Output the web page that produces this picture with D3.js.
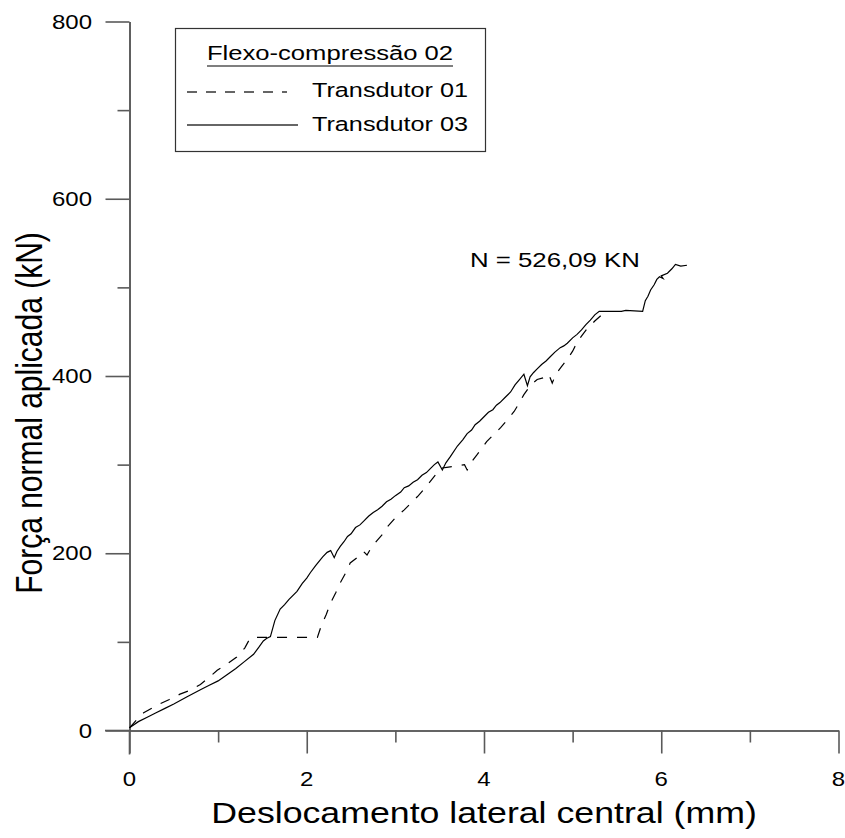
<!DOCTYPE html>
<html>
<head>
<meta charset="utf-8">
<script src="https://cdn.jsdelivr.net/npm/d3@7"></script>
<style>
	body { margin: 0; background: #fff; }
	svg text { font-family: "Liberation Sans", Arial, sans-serif; fill: #000; }
</style>
</head>
<body>
<svg id="chart" width="845" height="838"></svg>
<script>
// tick values
const xMajor = [0, 2, 4, 6, 8];
const xMinor = [1, 3, 5, 7];
const yMajor = [0, 200, 400, 600, 800];
const yMinor = [100, 300, 500, 700];

// Transdutor 01 (dashed): [deslocamento mm, forca kN]
const transdutor01 = [
	[0, 3], [0.08, 12], [0.16, 20], [0.3, 28], [0.45, 35], [0.57, 41], [0.7, 46], [0.8, 52],
	[0.9, 60], [0.99, 68], [1.1, 75], [1.21, 83], [1.3, 93], [1.36, 104], [1.40, 105],
	[1.6, 105], [1.9, 105], [2.12, 105], [2.16, 117], [2.22, 131], [2.27, 144], [2.33, 156],
	[2.38, 167], [2.44, 178], [2.49, 189], [2.58, 196], [2.64, 202], [2.68, 198], [2.72, 205],
	[2.79, 214], [2.86, 222], [2.91, 230], [3.0, 240], [3.1, 249], [3.18, 257], [3.25, 264],
	[3.33, 273], [3.41, 283], [3.51, 296], [3.58, 297], [3.66, 298], [3.78, 300], [3.81, 294],
	[3.85, 302], [3.92, 311], [4.03, 326], [4.1, 333], [4.19, 342], [4.26, 350], [4.34, 360],
	[4.4, 370], [4.45, 379], [4.53, 390], [4.6, 396], [4.67, 398], [4.73, 402], [4.77, 392],
	[4.81, 402], [4.87, 410], [4.94, 419], [5.0, 428], [5.05, 438], [5.1, 445], [5.16, 453],
	[5.25, 462], [5.35, 471]
];

// Transdutor 03 (solid)
const transdutor03 = [
	[0, 3], [0.1, 10], [0.2, 15], [0.3, 20], [0.4, 25], [0.5, 30], [0.65, 38], [0.8, 46],
	[0.9, 51], [1.0, 56], [1.1, 63], [1.2, 70], [1.3, 78], [1.4, 86], [1.46, 94], [1.51, 101],
	[1.55, 104], [1.59, 106], [1.64, 124], [1.70, 137], [1.75, 142], [1.8, 148], [1.89, 157],
	[1.95, 166], [2.0, 172], [2.04, 178], [2.1, 186], [2.18, 196], [2.23, 201], [2.27, 203],
	[2.31, 195], [2.34, 202], [2.38, 208], [2.42, 213], [2.46, 219], [2.5, 222], [2.55, 229],
	[2.6, 232], [2.64, 236], [2.7, 242], [2.75, 246], [2.8, 249], [2.85, 253], [2.9, 258],
	[2.95, 261], [3.0, 265], [3.06, 269], [3.1, 274], [3.15, 276], [3.2, 280], [3.25, 283],
	[3.3, 288], [3.35, 291], [3.4, 296], [3.44, 300], [3.48, 303], [3.53, 294], [3.57, 302],
	[3.62, 309], [3.7, 321], [3.76, 328], [3.81, 335], [3.86, 339], [3.9, 345], [3.95, 349],
	[4.0, 354], [4.05, 359], [4.1, 362], [4.14, 367], [4.18, 370], [4.24, 376], [4.3, 382],
	[4.35, 390], [4.4, 396], [4.45, 402], [4.49, 389], [4.52, 399], [4.56, 404], [4.6, 408],
	[4.65, 413], [4.7, 417], [4.75, 422], [4.8, 427], [4.86, 432], [4.9, 434], [4.94, 437],
	[5.0, 443], [5.05, 447], [5.1, 452], [5.15, 458], [5.2, 463], [5.25, 469], [5.30, 473],
	[5.55, 473], [5.6, 474], [5.79, 473], [5.82, 485], [5.85, 490], [5.88, 497], [5.92, 503],
	[5.95, 509], [5.98, 512], [6.02, 510], [6.0, 513], [6.07, 516], [6.12, 521], [6.16, 526],
	[6.22, 524], [6.29, 525]
];

const legendTitle = "Flexo-compressão 02";
const legendLabels = ["Transdutor 01", "Transdutor 03"];
const annotation = "N = 526,09 KN";
const xTitle = "Deslocamento lateral central (mm)";
const yTitle = "Força normal aplicada (kN)";

const svg = d3.select("#chart");
const axisColor = "#5a5a5a";
const stretch = 1.2; // the original text is wider than Arial

const x = d3.scaleLinear().domain([0, 8]).range([129.5, 838.5]);
const y = d3.scaleLinear().domain([0, 800]).range([730.5, 21.5]);

// text helper: horizontally stretched text
function label(parent, tx, ty, txt, size, anchor, sx) {
	return parent.append("text")
		.attr("transform", `translate(${tx},${ty}) scale(${sx || stretch},1)`)
		.attr("text-anchor", anchor)
		.style("font-size", size + "px")
		.text(txt);
}

// Axes
const xAxisG = svg.append("g").attr("transform", `translate(0,${y(0)})`);
xAxisG.call(d3.axisBottom(x).tickValues(xMinor).tickSize(12).tickSizeOuter(0).tickFormat(""));
xAxisG.append("g").call(d3.axisBottom(x).tickValues(xMajor).tickSize(23).tickSizeOuter(0).tickFormat(""));
xAxisG.append("line").attr("x1", 105).attr("x2", x(0)).attr("y1", 0).attr("y2", 0);

const yAxisG = svg.append("g").attr("transform", `translate(${x(0)},0)`);
yAxisG.call(d3.axisLeft(y).tickValues(yMinor).tickSize(12).tickSizeOuter(0).tickFormat(""));
yAxisG.append("g").call(d3.axisLeft(y).tickValues(yMajor).tickSize(24).tickSizeOuter(0).tickFormat(""));
yAxisG.append("line").attr("x1", 0).attr("x2", 0).attr("y1", y(0)).attr("y2", y(0) + 24);

svg.selectAll(".domain, .tick line, g > line")
	.attr("stroke", axisColor)
	.attr("stroke-width", 1.6);

// tick labels
xMajor.forEach(v => label(svg, x(v), 786, v, 20, "middle"));
yMajor.forEach(v => label(svg, 92, y(v) + 7, v, 20, "end"));

// axis titles
label(svg, 484, 823, xTitle, 30, "middle", 1.19);
svg.append("text")
	.attr("transform", `translate(42,413) scale(1.22,1) rotate(-90)`)
	.attr("text-anchor", "middle")
	.style("font-size", "30px")
	.text(yTitle);

// curves
const line = d3.line().x(d => x(d[0])).y(d => y(d[1]));

svg.append("path")
	.datum(transdutor01)
	.attr("fill", "none")
	.attr("stroke", "#000")
	.attr("stroke-width", 1.2)
	.attr("stroke-dasharray", "10,10")
	.attr("d", line);

svg.append("path")
	.datum(transdutor03)
	.attr("fill", "none")
	.attr("stroke", "#000")
	.attr("stroke-width", 1.2)
	.attr("d", line);

// annotation
label(svg, 470, 267, annotation, 20, "start", 1.29);

// Legend
const legend = svg.append("g");
legend.append("rect")
	.attr("x", 175.5).attr("y", 28.5)
	.attr("width", 310).attr("height", 123)
	.attr("fill", "#fff")
	.attr("stroke", "#333")
	.attr("stroke-width", 1.2);
label(legend, 330, 60, legendTitle, 21, "middle", 1.22);
legend.append("line")
	.attr("x1", 207).attr("x2", 453)
	.attr("y1", 66).attr("y2", 66)
	.attr("stroke", "#000").attr("stroke-width", 1.2);

legend.append("line")
	.attr("x1", 187).attr("x2", 287).attr("y1", 92).attr("y2", 92)
	.attr("stroke", "#333").attr("stroke-width", 1.3)
	.attr("stroke-dasharray", "10,9");
legend.append("line")
	.attr("x1", 187).attr("x2", 298).attr("y1", 125).attr("y2", 125)
	.attr("stroke", "#666").attr("stroke-width", 1.8);
legendLabels.forEach((t, i) => label(legend, 312, 97 + i * 34, t, 20.5, "start", 1.23));
</script>
</body>
</html>
